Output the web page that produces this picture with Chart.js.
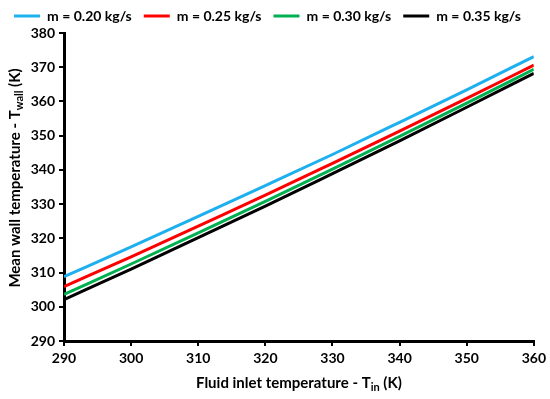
<!DOCTYPE html>
<html>
<head>
<meta charset="utf-8">
<script src="https://cdn.jsdelivr.net/npm/chart.js@4.4.1/dist/chart.umd.min.js"></script>
<style>
  html, body { margin: 0; padding: 0; background: #fff; }
  #wrap { width: 550px; height: 399px; }
</style>
</head>
<body>
<div id="wrap"><canvas id="chart"></canvas></div>
<script>
// inlet temperature (K)
const tIn = [290, 300, 310, 320, 330, 340, 350, 360];

// mean wall temperature (K) for each mass flow rate
const m020 = [308.8, 317.5, 326.4, 335.4, 344.5, 353.9, 363.4, 373.1];
const m025 = [305.9, 314.6, 323.6, 332.6, 341.9, 351.3, 360.9, 370.6];
const m030 = [303.6, 312.5, 321.6, 330.8, 340.2, 349.8, 359.5, 369.4];
const m035 = [302.1, 311.0, 320.2, 329.4, 338.9, 348.5, 358.3, 368.2];

const seriesLabels = ['m = 0.20 kg/s', 'm = 0.25 kg/s', 'm = 0.30 kg/s', 'm = 0.35 kg/s'];
const seriesColors = ['#1EB0EE', '#FF0000', '#00B050', '#000000'];

const FONT = 'Lato, "Open Sans", sans-serif';

function toPoints(ys) {
    return tIn.map((x, i) => ({ x: x, y: ys[i] }));
}

// draws "main + subscript + rest" centred at (cx, cy)
function drawSubText(ctx, main, sub, rest, cx, cy) {
    const big = 'bold 15px ' + FONT, small = 'bold 11px ' + FONT;
    ctx.font = big;
    const w1 = ctx.measureText(main).width;
    const w3 = ctx.measureText(rest).width;
    ctx.font = small;
    const w2 = ctx.measureText(sub).width;
    let x = cx - (w1 + w2 + w3) / 2;
    ctx.textBaseline = 'middle';
    ctx.textAlign = 'left';
    ctx.fillStyle = '#000';
    ctx.font = big;
    ctx.fillText(main, x, cy);
    x += w1;
    ctx.font = small;
    ctx.fillText(sub, x, cy + 4);
    x += w2;
    ctx.font = big;
    ctx.fillText(rest, x, cy);
}

const axisTitles = {
    id: 'axisTitles',
    afterDraw(chart) {
        const ctx = chart.ctx, a = chart.chartArea;
        ctx.save();
        drawSubText(ctx, 'Fluid inlet temperature - T', 'in', ' (K)', (a.left + a.right) / 2, 383);
        ctx.translate(15, (a.top + a.bottom) / 2 - 9);
        ctx.rotate(-Math.PI / 2);
        drawSubText(ctx, 'Mean wall temperature - T', 'wall', ' (K)', 0, 0);
        ctx.restore();
    }
};

const datasets = [m020, m025, m030, m035].map((ys, i) => ({
    label: seriesLabels[i],
    data: toPoints(ys),
    borderColor: seriesColors[i],
    backgroundColor: seriesColors[i],
    borderWidth: 3,
    pointRadius: 0,
    tension: 0.4,
    cubicInterpolationMode: 'monotone',
    fill: false
}));

const axisCommon = {
    type: 'linear',
    border: { display: true, color: '#000', width: 3 },
    grid: { drawOnChartArea: false, drawTicks: true, tickLength: 5, color: '#000', lineWidth: 2 },
    ticks: { color: '#000', font: { family: FONT, size: 14, weight: 'bold' }, stepSize: 10, padding: 4 }
};

new Chart(document.getElementById('chart'), {
    type: 'line',
    data: { datasets: datasets },
    options: {
        responsive: true,
        maintainAspectRatio: false,
        animation: false,
        layout: { padding: { left: 0, right: 15, top: -3, bottom: 0 } },
        plugins: {
            legend: {
                position: 'top',
                labels: {
                    usePointStyle: true,
                    pointStyle: 'line',
                    pointStyleWidth: 26,
                    color: '#000',
                    font: { family: FONT, size: 14, weight: 'bold' },
                    padding: 12
                }
            },
            tooltip: { enabled: false }
        },
        scales: {
            x: Object.assign({}, axisCommon, {
                min: 290, max: 360,
                afterFit: s => { s.height = 58; }
            }),
            y: Object.assign({}, axisCommon, {
                min: 290, max: 380,
                afterFit: s => { s.width = 64; }
            })
        }
    },
    plugins: [axisTitles]
});
</script>
</body>
</html>
